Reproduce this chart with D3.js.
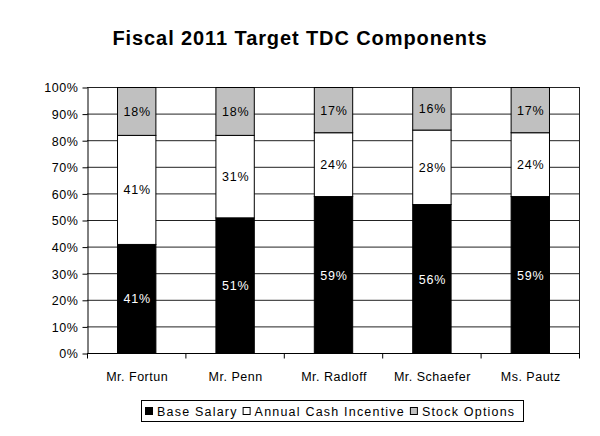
<!DOCTYPE html>
<html><head><meta charset="utf-8">
<script src="https://cdn.jsdelivr.net/npm/d3@7"></script>
<style>body{margin:0;background:#fff}svg{display:block}text{font-family:Arial,"Liberation Sans",sans-serif}</style>
</head><body>
<svg id="c" width="600" height="436"></svg>
<script>
const categories = ["Mr. Fortun","Mr. Penn","Mr. Radloff","Mr. Schaefer","Ms. Pautz"];
const baseSalary = [41,51,59,56,59];
const annualCash = [41,31,24,28,24];
const stockOptions = [18,18,17,16,17];
const seriesNames = ["Base Salary","Annual Cash Incentive","Stock Options"];
const seriesColors = ["#000000","#ffffff","#c0c0c0"];
const labelColors = ["#ffffff","#000000","#000000"];
const yTicks = [0,10,20,30,40,50,60,70,80,90,100];
const title = "Fiscal 2011 Target TDC Components";

const svg = d3.select("#c");
const L=87,R=579,T=87,B=353;
const x = d3.scaleBand().domain(categories).range([L,R]).paddingInner(0.61).paddingOuter(0.305);
const y = d3.scaleLinear().domain([0,100]).range([B,T]);

svg.append("text").attr("x",300).attr("y",45).attr("text-anchor","middle")
  .style("font-size","20px").style("font-weight","bold").style("letter-spacing","0.9px").text(title);

// gridlines
svg.append("g").selectAll("line").data(yTicks).join("line")
  .attr("x1",L).attr("x2",R).attr("y1",d=>y(d)+0.5).attr("y2",d=>y(d)+0.5)
  .attr("stroke","#222").attr("stroke-width",1);
svg.append("line").attr("x1",R+0.5).attr("x2",R+0.5).attr("y1",T).attr("y2",B).attr("stroke","#222");

const data = categories.map((c,i)=>({cat:c,"Base Salary":baseSalary[i],"Annual Cash Incentive":annualCash[i],"Stock Options":stockOptions[i]}));
const stack = d3.stack().keys(seriesNames)(data);

stack.forEach((s,si)=>{
  const g = svg.append("g");
  g.selectAll("rect").data(s).join("rect")
    .attr("x",d=>x(d.data.cat)+0.5).attr("width",x.bandwidth())
    .attr("y",d=>y(d[1])+0.5).attr("height",d=>y(d[0])-y(d[1]))
    .attr("fill",seriesColors[si]).attr("stroke","#000").attr("stroke-width",1);
  g.selectAll("text").data(s).join("text")
    .attr("x",d=>x(d.data.cat)+x.bandwidth()/2+1)
    .attr("y",d=>y((d[0]+d[1])/2)+5)
    .attr("text-anchor","middle").style("font-size","12.5px").style("letter-spacing","0.8px").attr("fill",labelColors[si])
    .text(d=>(d[1]-d[0])+"%");
});

// axes
const yAxis = d3.axisLeft(y).tickValues(yTicks).tickFormat(d=>d+"%").tickSize(5).tickSizeOuter(0);
const ga = svg.append("g").attr("transform",`translate(${L+0.5},0.5)`).call(yAxis);
ga.select(".domain").attr("stroke","#000");
ga.selectAll("text").style("font-size","12.5px").style("letter-spacing","0.6px").attr("fill","#000").attr("x",-9).attr("dy","0.35em");
ga.selectAll("line").attr("stroke","#000");

const xb = svg.append("g").attr("transform",`translate(0,${B+0.5})`);
xb.append("line").attr("x1",L).attr("x2",R+1).attr("stroke","#000");
const bounds = categories.map((c,i)=>L+i*(R-L)/categories.length).concat([R]);
xb.selectAll("line.t").data(bounds).join("line").attr("class","t")
  .attr("x1",d=>d+0.5).attr("x2",d=>d+0.5).attr("y1",0).attr("y2",5).attr("stroke","#000");
xb.selectAll("text").data(categories).join("text")
  .attr("x",d=>x(d)+x.bandwidth()/2+1).attr("y",27).attr("text-anchor","middle")
  .style("font-size","12.5px").style("letter-spacing","0.5px").text(d=>d);

// legend
const lg = svg.append("g");
lg.append("rect").attr("x",141.5).attr("y",400.5).attr("width",382).attr("height",21)
  .attr("fill","#fff").attr("stroke","#000");
let lx = 145;
seriesNames.forEach((n,i)=>{
  lg.append("rect").attr("x",lx+0.5).attr("y",407.5).attr("width",7).attr("height",7)
    .attr("fill",seriesColors[i]).attr("stroke","#000");
  const t = lg.append("text").attr("x",lx+12).attr("y",416).style("font-size","12.5px").style("letter-spacing","1.2px").text(n);
  lx += 12 + t.node().getComputedTextLength() + 5;
});
</script>
</body></html>
